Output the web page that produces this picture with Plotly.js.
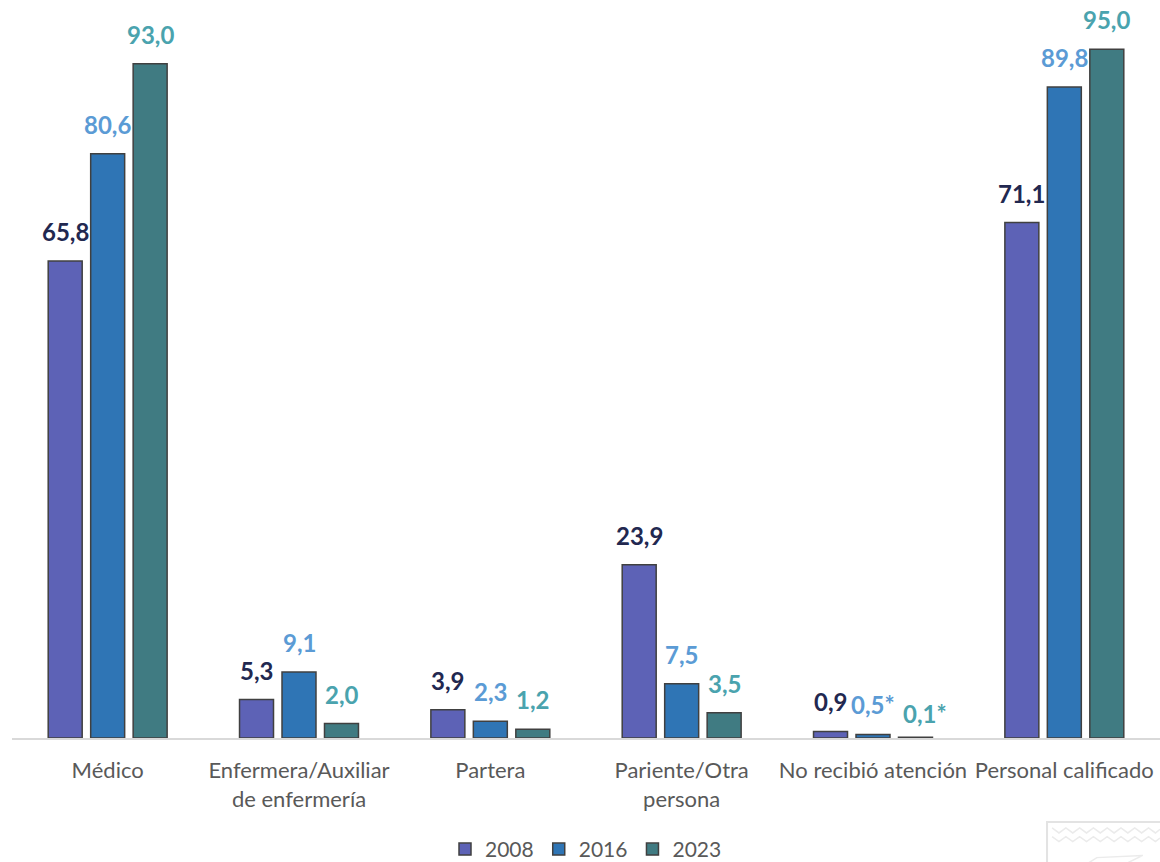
<!DOCTYPE html>
<html><head><meta charset="utf-8">
<script src="https://cdn.plot.ly/plotly-3.0.1.min.js"></script>
<style>body{margin:0;background:#fff}#chart{width:1160px;height:862px}</style>
</head><body><div id="chart"></div>
<script>
const categories = ["Médico", "Enfermera/Auxiliar<br>de enfermería", "Partera", "Pariente/Otra<br>persona", "No recibió atención", "Personal calificado"];
const seriesNames = ["2008", "2016", "2023"];
const values2008 = [65.8, 5.3, 3.9, 23.9, 0.9, 71.1];
const values2016 = [80.6, 9.1, 2.3, 7.5, 0.5, 89.8];
const values2023 = [93.0, 2.0, 1.2, 3.5, 0.1, 95.0];
const labels2008 = ["65,8", "5,3", "3,9", "23,9", "0,9", "71,1"];
const labels2016 = ["80,6", "9,1", "2,3", "7,5", "0,5*", "89,8"];
const labels2023 = ["93,0", "2,0", "1,2", "3,5", "0,1*", "95,0"];

const allValues = [values2008, values2016, values2023];
const allLabels = [labels2008, labels2016, labels2023];
const barColors = ["#5d62b6", "#2f75b5", "#407b82"];
const labelColors = ["#222850", "#5b9bd5", "#4aa3ae"];
const FONT = "Lato, 'Open Sans', sans-serif";

const traces = seriesNames.map((n, i) => ({
  type: "bar", name: n, x: categories, y: allValues[i],
  marker: {color: barColors[i], line: {color: "#404040", width: 1.5}},
  hoverinfo: "skip"
}));

const offsets = [-42.5, 0, 42.5];
const annotations = [];
allValues.forEach((vals, i) => {
  vals.forEach((v, j) => {
    const special = (j === 4 && i === 2);
    annotations.push({
      x: categories[j], y: v, xref: "x", yref: "y",
      text: allLabels[i][j], showarrow: false,
      xanchor: "center", yanchor: "bottom",
      xshift: offsets[i] + (special ? 9 : 0), yshift: 13 + (special ? -6 : 0),
      font: {family: FONT, size: 24, color: labelColors[i], weight: "bold"}
    });
  });
});

const layout = {
  width: 1160, height: 862,
  margin: {l: 12, r: 0, t: 13, b: 124, autoexpand: false},
  paper_bgcolor: "#fff", plot_bgcolor: "#fff",
  barmode: "group", bargap: 0.334, bargroupgap: 0.2,
  font: {family: FONT, size: 22, color: "#595959"},
  xaxis: {
    type: "category", showline: true, linecolor: "#d9d9d9", linewidth: 1.5,
    ticks: "", ticklabelstandoff: 12, automargin: false,
    tickfont: {family: FONT, size: 22, color: "#595959"},
    showgrid: false, zeroline: false
  },
  yaxis: {range: [0, 100], visible: false, showgrid: false, zeroline: false, automargin: false},
  showlegend: true,
  legend: {orientation: "h", x: 0.5, xanchor: "center", y: -0.182, yanchor: "bottom",
    font: {family: FONT, size: 21, color: "#595959"}, traceorder: "normal", itemwidth: 30},
  annotations: annotations,
  shapes: [
    {type: "rect", xref: "paper", yref: "paper", x0: 0.9016, x1: 1.01, y0: -0.2, y1: -0.116,
     line: {color: "#e3e3e3", width: 2}, fillcolor: "rgba(0,0,0,0)"},
    {type: "path", xref: "paper", yref: "paper",
     path: "M0.906,-0.124 L0.912,-0.131 L0.918,-0.124 L0.924,-0.131 L0.930,-0.124 L0.936,-0.131 L0.942,-0.124 L0.948,-0.131 L0.954,-0.124 L0.960,-0.131 L0.966,-0.124 L0.972,-0.131 L0.978,-0.124 L0.984,-0.131 L0.990,-0.124 L0.996,-0.131 L1.0,-0.126",
     line: {color: "#ebebeb", width: 1.5}},
    {type: "path", xref: "paper", yref: "paper",
     path: "M0.906,-0.136 L0.912,-0.143 L0.918,-0.136 L0.924,-0.143 L0.930,-0.136 L0.936,-0.143 L0.942,-0.136 L0.948,-0.143 L0.954,-0.136 L0.960,-0.143 L0.966,-0.136 L0.972,-0.143 L0.978,-0.136 L0.984,-0.143 L0.990,-0.136 L0.996,-0.143 L1.0,-0.138",
     line: {color: "#ebebeb", width: 1.5}},
    {type: "path", xref: "paper", yref: "paper",
     path: "M0.925,-0.185 L0.945,-0.165 L0.985,-0.162 L0.972,-0.172 L0.95,-0.176 L0.935,-0.19",
     line: {color: "#ebebeb", width: 1.5}}
  ]
};

Plotly.newPlot("chart", traces, layout, {displayModeBar: false, staticPlot: true});
</script></body></html>
